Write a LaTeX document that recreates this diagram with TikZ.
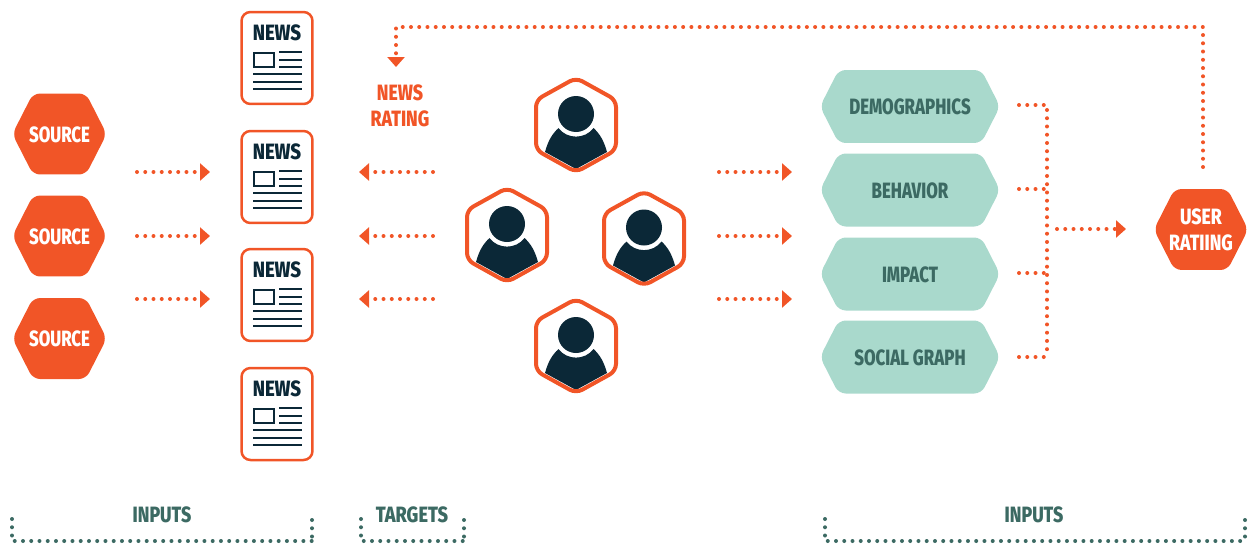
\documentclass[tikz,border=0pt]{standalone}
\usepackage{fontspec}
\setmainfont[BoldFont={Fira Sans ExtraBold}]{Fira Sans}
\usepackage{graphicx}
\usetikzlibrary{arrows.meta,shapes.symbols}

\definecolor{hotorange}{HTML}{F15527}
\definecolor{inknavy}{HTML}{0B2837}
\definecolor{palemint}{HTML}{A9D9CC}
\definecolor{deepmint}{HTML}{3C6A63}

\newcommand{\lbl}[2][0.76]{\fontsize{12.6}{14.3}\selectfont\bfseries\raisebox{-0.3pt}[\height][0pt]{\scalebox{#1}[1]{#2}}}
\newcommand{\hexlbl}[2][0.76]{\makebox[1.06cm]{\lbl[#1]{#2}}}
\newcommand{\newsicon}[2]{
  \draw[inknavy,line width=0.04cm] (#1+14,#2+41.5) rectangle (#1+34,#2+55.5);
  \draw[inknavy,line width=0.04cm]
     (#1+39,#2+41) to (#1+62,#2+41)
     (#1+39,#2+49) to (#1+62,#2+49)
     (#1+39,#2+56) to (#1+62,#2+56)
     (#1+13,#2+63) to (#1+62,#2+63)
     (#1+13,#2+71) to (#1+62,#2+71)
     (#1+13,#2+78) to (#1+62,#2+78);
}
\newcommand{\usericon}[2]{
  \fill[inknavy] (#1,#2-11) circle (0.36cm);
  \fill[inknavy] (#1-31,#2+27)
     .. controls (#1-28,#2+16) and (#1-24,#2+9) .. (#1-17.5,#2+3)
     .. controls (#1-9,#2+14.5) and (#1+9,#2+14.5) .. (#1+17.5,#2+3)
     .. controls (#1+24,#2+9) and (#1+28,#2+16) .. (#1+31,#2+27)
     -- (#1,#2+44) -- cycle;
}

\tikzset{
  hexnode/.style={signal,signal to=east and west,signal pointer angle=126,
     inner sep=0pt,outer sep=0pt,rounded corners=0.14cm},
  srchex/.style={hexnode,fill=hotorange,text=white,minimum height=1.62cm},
  mainhex/.style={hexnode,fill=palemint,text=deepmint,minimum width=3.6cm,minimum height=1.46cm},
  userhex/.style={signal,signal to=north and south,signal pointer angle=122,draw=hotorange,
     line width=0.08cm,inner sep=0pt,outer sep=0pt,rounded corners=0.14cm,
     minimum width=1.6cm,minimum height=1cm},
  paper/.style={draw=hotorange,line width=0.05cm,rounded corners=0.18cm,fill=none,
     minimum width=1.42cm,minimum height=1.84cm,inner sep=0pt},
  dotline/.style={hotorange,line width=0.08cm,line cap=round,dash pattern=on 0pt off 0.165cm},
  dotarrow/.style={dotline,-{Triangle[length=0.2cm,width=0.34cm]}},
  dotbrace/.style={dotline,deepmint}
}

\begin{document}
\begin{tikzpicture}[x=0.02cm,y=-0.02cm]

  \useasboundingbox (0,0) rectangle (1250,545);

%%% sources %%%

  \node (S1) at (59.5,134) [srchex] {\hexlbl{SOURCE}};
  \node (S2) at (59.5,236) [srchex] {\hexlbl{SOURCE}};
  \node (S3) at (59.5,338.5) [srchex] {\hexlbl{SOURCE}};

%%% news papers %%%

  \node (N1) at (277,58) [paper] {};
  \node (N2) at (277,177) [paper] {};
  \node (N3) at (277,295) [paper] {};
  \node (N4) at (277,414) [paper] {};

\draw (277,32) node [text=inknavy] {\lbl[0.84]{NEWS}};
\draw (277,151) node [text=inknavy] {\lbl[0.84]{NEWS}};
\draw (277,269) node [text=inknavy] {\lbl[0.84]{NEWS}};
\draw (277,388) node [text=inknavy] {\lbl[0.84]{NEWS}};

\newsicon{240}{11}
\newsicon{240}{130}
\newsicon{240}{248}
\newsicon{240}{367}

%%% users %%%

\usericon{576}{125}
\usericon{507}{235}
\usericon{644}{238.5}
\usericon{576}{346}

  \node (U1) at (576,125) [userhex] {};
  \node (U2) at (507,235) [userhex] {};
  \node (U3) at (644,238.5) [userhex] {};
  \node (U4) at (576,346) [userhex] {};

  \node (R) at (400,105) [text=hotorange,align=center] {\lbl[0.8]{NEWS}\\[0.1cm]\lbl[0.8]{RATING}};

%%% main inputs on the right %%%

  \node (D) at (910,106.5) [mainhex] {\lbl{DEMOGRAPHICS}};
  \node (B) at (910,190) [mainhex] {\lbl{BEHAVIOR}};
  \node (I) at (910,274) [mainhex] {\lbl{IMPACT}};
  \node (G) at (910,357) [mainhex] {\lbl{SOCIAL GRAPH}};

  \node (UR) at (1201,229.5) [srchex,align=center] {\hexlbl[0.8]{USER}\\[0.1cm]\hexlbl[0.8]{RATIING}};

%%% dotted arrows %%%

  \coordinate (A1) at (137,172);
  \coordinate (A2) at (137,236);
  \coordinate (A3) at (137,299);
  \coordinate (B1) at (210,172);
  \coordinate (B2) at (210,236);
  \coordinate (B3) at (210,299);
  \coordinate (C1) at (433,172);
  \coordinate (C2) at (433,236);
  \coordinate (C3) at (433,299);
  \coordinate (E1) at (359,172);
  \coordinate (E2) at (359,236);
  \coordinate (E3) at (359,299);
  \coordinate (F1) at (719,172);
  \coordinate (F2) at (719,236);
  \coordinate (F3) at (719,299);
  \coordinate (H1) at (792,172);
  \coordinate (H2) at (792,236);
  \coordinate (H3) at (792,299);

\draw[dotarrow] (A1) to (B1);
\draw[dotarrow] (A2) to (B2);
\draw[dotarrow] (A3) to (B3);
\draw[dotarrow] (C1) to (E1);
\draw[dotarrow] (C2) to (E2);
\draw[dotarrow] (C3) to (E3);
\draw[dotarrow] (F1) to (H1);
\draw[dotarrow] (F2) to (H2);
\draw[dotarrow] (F3) to (H3);

  \coordinate (T0) at (1203,167);
  \coordinate (T1) at (1203,27);
  \coordinate (T2) at (396,27);
  \coordinate (T3) at (396,67);

\draw[dotarrow] (T0) -- (T1) -- (T2) -- (T3);

  \coordinate (J1) at (1019,105);
  \coordinate (J2) at (1047,105);
  \coordinate (J3) at (1047,357);
  \coordinate (J4) at (1019,357);
  \coordinate (K1) at (1019,189);
  \coordinate (K2) at (1047,189);
  \coordinate (K3) at (1019,273);
  \coordinate (K4) at (1047,273);
  \coordinate (L1) at (1057,229);
  \coordinate (L2) at (1126,229);

\draw[dotline] (J1) -- (J2) -- (J3);
\draw[dotline] (J4) to (J3);
\draw[dotline] (K1) to (K2);
\draw[dotline] (K3) to (K4);
\draw[dotarrow] (L1) to (L2);

%%% brackets at the bottom %%%

  \node (P1) at (162,514.5) [text=deepmint] {\lbl[0.8]{INPUTS}};
  \node (P2) at (412,514.5) [text=deepmint] {\lbl[0.82]{TARGETS}};
  \node (P3) at (1034,514.5) [text=deepmint] {\lbl[0.8]{INPUTS}};

  \coordinate (Q1) at (12,519);
  \coordinate (Q2) at (12,541);
  \coordinate (Q3) at (312,541);
  \coordinate (Q4) at (312,520);
  \coordinate (V1) at (361,519);
  \coordinate (V2) at (361,541);
  \coordinate (V3) at (464,541);
  \coordinate (V4) at (464,520);
  \coordinate (W1) at (825,519);
  \coordinate (W2) at (825,541);
  \coordinate (W3) at (1245,541);
  \coordinate (W4) at (1245,520);

\draw[dotbrace] (Q1) -- (Q2) -- (Q3);
\draw[dotbrace] (Q4) to (Q3);
\draw[dotbrace] (V1) -- (V2) -- (V3);
\draw[dotbrace] (V4) to (V3);
\draw[dotbrace] (W1) -- (W2) -- (W3);
\draw[dotbrace] (W4) to (W3);

\end{tikzpicture}
\end{document}
